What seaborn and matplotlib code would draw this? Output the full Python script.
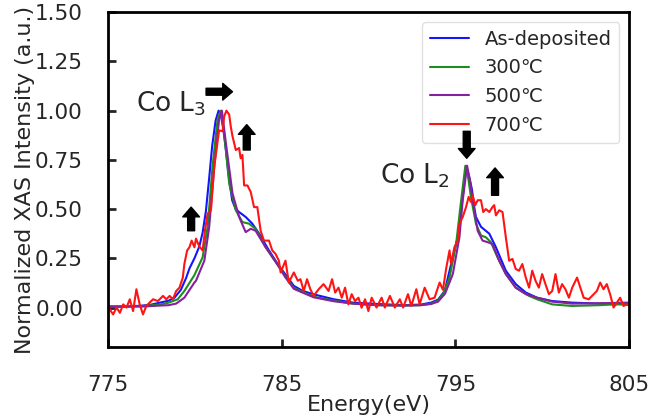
import numpy as np
import pandas as pd
import matplotlib
matplotlib.use("Agg")
import matplotlib.pyplot as plt
import seaborn as sns

# Co L-edge XAS spectra
energy_asdep = [775.0, 776.0, 777.0, 777.5, 778.0, 778.5, 778.83, 779.2, 779.5, 779.7,
                779.98, 780.26, 780.45, 780.64, 780.82, 781.0, 781.2, 781.37, 781.5, 781.65,
                781.79, 781.95, 782.15, 782.35, 782.55, 782.93, 783.3, 783.7, 784.27, 784.84,
                785.2, 785.7, 786.2, 786.84, 788.0, 789.1, 790.5, 792.0, 793.0, 793.6,
                794.0, 794.38, 794.75, 795.13, 795.42, 795.61, 795.8, 795.95, 796.1, 796.18,
                796.47, 796.95, 797.33, 797.9, 798.47, 799.05, 799.7, 800.57, 801.7, 803.24,
                805.0]
int_asdep = [0.005, 0.005, 0.01, 0.015, 0.025, 0.035, 0.05, 0.09, 0.15, 0.20,
             0.25, 0.31, 0.38, 0.49, 0.65, 0.82, 0.95, 1.0, 0.98, 0.90,
             0.80, 0.67, 0.545, 0.50, 0.485, 0.46, 0.427, 0.376, 0.29, 0.212,
             0.17, 0.11, 0.085, 0.067, 0.042, 0.025, 0.018, 0.012, 0.015, 0.025,
             0.04, 0.084, 0.22, 0.357, 0.56, 0.72, 0.66, 0.60, 0.50, 0.46,
             0.41, 0.375, 0.306, 0.187, 0.119, 0.076, 0.05, 0.033, 0.025, 0.02,
             0.015]

energy_300 = [775.0, 776.0, 777.0, 778.0, 778.5, 779.02, 779.4, 779.98, 780.45, 780.74,
              781.02, 781.31, 781.5, 781.69, 781.98, 782.36, 782.74, 783.12, 783.5, 784.08,
              784.74, 785.2, 785.7, 786.84, 788.0, 789.1, 790.5, 792.0, 793.0, 793.6,
              794.0, 794.3, 794.66, 795.04, 795.33, 795.57, 795.75, 795.89, 796.18, 796.47,
              796.75, 797.04, 797.42, 797.9, 798.47, 799.24, 799.7, 800.57, 801.7, 803.3,
              805.0]
int_300 = [0.005, 0.005, 0.008, 0.015, 0.025, 0.042, 0.084, 0.165, 0.255, 0.41,
           0.715, 0.955, 1.0, 0.886, 0.63, 0.494, 0.434, 0.426, 0.40, 0.306,
           0.221, 0.16, 0.10, 0.055, 0.035, 0.02, 0.012, 0.01, 0.012, 0.02,
           0.035, 0.07, 0.152, 0.323, 0.545, 0.72, 0.65, 0.562, 0.426, 0.366,
           0.357, 0.332, 0.255, 0.17, 0.101, 0.059, 0.042, 0.016, 0.008, 0.012,
           0.02]

energy_500 = [775.0, 776.0, 777.0, 778.0, 778.5, 778.93, 779.4, 779.98, 780.07, 780.55,
              780.83, 781.12, 781.4, 781.56, 781.79, 782.17, 782.55, 782.93, 783.22, 783.5,
              784.08, 784.74, 785.2, 785.7, 786.84, 788.0, 789.1, 790.5, 792.0, 793.0,
              793.6, 794.0, 794.4, 794.85, 795.23, 795.42, 795.67, 795.85, 795.99, 796.28,
              796.56, 796.85, 797.13, 797.52, 797.9, 798.47, 799.05, 799.7, 800.57, 801.7,
              803.3, 805.0]
int_500 = [0.005, 0.005, 0.005, 0.01, 0.012, 0.02, 0.05, 0.127, 0.136, 0.238,
           0.41, 0.715, 0.955, 1.0, 0.835, 0.58, 0.46, 0.383, 0.40, 0.39,
           0.306, 0.221, 0.155, 0.095, 0.052, 0.032, 0.02, 0.012, 0.01, 0.012,
           0.018, 0.03, 0.07, 0.17, 0.357, 0.545, 0.72, 0.64, 0.545, 0.39,
           0.34, 0.332, 0.323, 0.238, 0.17, 0.101, 0.068, 0.05, 0.03, 0.02,
           0.022, 0.025]

energy_700 = [775.0, 775.11, 775.3, 775.5, 775.69, 775.88, 776.07, 776.26, 776.45, 776.64,
              776.83, 777.02, 777.21, 777.4, 777.6, 777.88, 778.17, 778.36, 778.55, 778.74,
              778.93, 779.12, 779.31, 779.4, 779.56, 779.69, 779.82, 779.98, 780.07, 780.26,
              780.45, 780.6, 780.74, 780.93, 781.12, 781.4, 781.6, 781.69, 781.82, 781.98,
              782.07, 782.17, 782.36, 782.55, 782.64, 782.74, 782.84, 783.03, 783.22, 783.41,
              783.6, 783.79, 783.98, 784.27, 784.46, 784.65, 784.84, 784.94, 785.22, 785.41,
              785.7, 785.93, 786.08, 786.27, 786.46, 786.65, 786.84, 787.13, 787.41, 787.7,
              787.9, 788.08, 788.27, 788.46, 788.65, 788.84, 789.03, 789.22, 789.42, 789.6,
              789.8, 789.99, 790.18, 790.46, 790.75, 790.94, 791.23, 791.51, 791.8, 791.99,
              792.27, 792.46, 792.75, 792.94, 793.23, 793.51, 793.8, 794.09, 794.28, 794.47,
              794.66, 794.75, 794.94, 795.13, 795.23, 795.42, 795.61, 795.76, 795.89, 795.99,
              796.14, 796.28, 796.47, 796.6, 796.75, 796.95, 797.13, 797.23, 797.33, 797.52,
              797.71, 797.9, 798.09, 798.28, 798.47, 798.66, 798.85, 799.05, 799.24, 799.42,
              799.61, 799.8, 799.99, 800.18, 800.38, 800.57, 800.76, 800.95, 801.14, 801.33,
              801.53, 801.72, 802.0, 802.19, 802.38, 802.67, 802.86, 803.14, 803.33, 803.52,
              803.71, 803.9, 804.1, 804.29, 804.48, 804.67, 804.86, 805.0]
int_700 = [0.008, -0.01, -0.035, 0.0, -0.027, 0.016, 0.0, 0.042, -0.018, 0.093,
           0.016, -0.035, 0.008, 0.025, 0.042, 0.033, 0.059, 0.042, 0.059, 0.042,
           0.084, 0.101, 0.152, 0.221, 0.29, 0.306, 0.34, 0.306, 0.35, 0.31,
           0.29, 0.40, 0.477, 0.494, 0.715, 0.90, 0.895, 0.97, 1.0, 0.98,
           0.92, 0.87, 0.80, 0.81, 0.758, 0.775, 0.62, 0.62, 0.587, 0.51,
           0.51, 0.39, 0.34, 0.34, 0.29, 0.272, 0.238, 0.178, 0.238, 0.127,
           0.178, 0.136, 0.144, 0.084, 0.144, 0.093, 0.059, 0.093, 0.119, 0.084,
           0.144, 0.076, 0.101, 0.05, 0.101, 0.016, 0.068, 0.033, 0.05, -0.001,
           0.042, -0.018, 0.05, 0.0, 0.05, 0.0, 0.059, 0.0, 0.042, 0.0,
           0.068, 0.008, 0.093, 0.016, 0.101, 0.042, 0.05, 0.127, 0.09, 0.2,
           0.29, 0.221, 0.306, 0.34, 0.426, 0.46, 0.51, 0.562, 0.536, 0.57,
           0.52, 0.545, 0.545, 0.485, 0.50, 0.485, 0.51, 0.52, 0.468, 0.494,
           0.485, 0.357, 0.238, 0.247, 0.196, 0.187, 0.221, 0.152, 0.101, 0.187,
           0.136, 0.101, 0.17, 0.119, 0.068, 0.084, 0.17, 0.076, 0.119, 0.093,
           0.05, 0.101, 0.152, 0.101, 0.05, 0.042, 0.059, 0.084, 0.127, 0.093,
           0.119, 0.068, 0.0, 0.025, 0.05, 0.008, 0.016, 0.01]

labels = ["As-deposited", "300\u2103", "500\u2103", "700\u2103"]
colors = ["#1414ff", "#1e8c1e", "#86209e", "#ff1414"]

x_ticks = [775, 785, 795, 805]
y_ticks = [0.0, 0.25, 0.5, 0.75, 1.0, 1.25, 1.5]

frames = []
for lab, e, i in zip(labels,
                     [energy_asdep, energy_300, energy_500, energy_700],
                     [int_asdep, int_300, int_500, int_700]):
    frames.append(pd.DataFrame({"Energy": e, "Intensity": i, "Sample": lab}))
df = pd.concat(frames, ignore_index=True)

sns.set_style("ticks")
plt.rcParams["font.family"] = ["DejaVu Sans"]

fig, ax = plt.subplots(figsize=(6.5, 4.2), dpi=100)
fig.subplots_adjust(left=0.166, right=0.968, bottom=0.174, top=0.971)

sns.lineplot(data=df, x="Energy", y="Intensity", hue="Sample", hue_order=labels,
             palette=colors, estimator=None, sort=False, linewidth=1.5, ax=ax)

ax.set_xlim(775, 805)
ax.set_ylim(-0.2, 1.5)
ax.set_xticks(x_ticks)
ax.set_yticks(y_ticks)
ax.set_yticklabels([f"{v:.2f}" for v in y_ticks])
ax.set_xlabel("Energy(eV)", fontsize=16, labelpad=0)
ax.set_ylabel("Normalized XAS Intensity (a.u.)", fontsize=16, labelpad=0)

for s in ax.spines.values():
    s.set_linewidth(2)
    s.set_color("black")
ax.tick_params(direction="in", length=6, width=2, labelsize=15.5)
ax.tick_params(axis="x", pad=20)
ax.tick_params(axis="y", pad=18)

leg = ax.legend(loc="upper right", fontsize=14, frameon=True)
leg.get_frame().set_edgecolor("0.85")

# peak labels
ax.text(776.64, 0.997, "Co L$_3$", fontsize=19, ha="left", va="baseline")
ax.text(790.66, 0.63, "Co L$_2$", fontsize=19, ha="left", va="baseline")

# block arrows, drawn above the legend box
arr = dict(arrowstyle="simple,head_length=0.7,head_width=1.2,tail_width=0.5",
           fc="black", ec="black", shrinkA=0, shrinkB=0)
arrows = [((780.65, 1.096), (782.17, 1.096)),
          ((779.79, 0.39), (779.79, 0.51)),
          ((782.99, 0.80), (782.99, 0.929)),
          ((795.65, 0.895), (795.65, 0.758)),
          ((797.28, 0.57), (797.28, 0.709))]
for tail, head in arrows:
    ax.annotate("", xy=head, xytext=tail, arrowprops=arr, zorder=6)

fig.savefig("out.png", dpi=100)
